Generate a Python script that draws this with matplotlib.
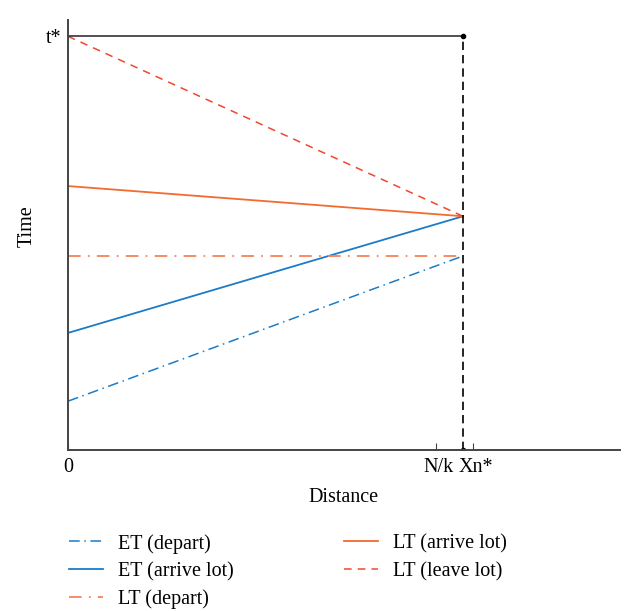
import numpy as np
import matplotlib
matplotlib.use("Agg")
import matplotlib.pyplot as plt

plt.rcParams['font.family'] = ['Liberation Serif', 'DejaVu Serif']

# distance positions (Xn* normalised to 1)
x_ends = [0.0, 1.0]
xn_star = 1.0
nk = 0.932
xn_tick = 1.025
t_star = 1.0

# time values at x=0 and x=Xn*
et_depart = [0.118, 0.469]
et_arrive = [0.283, 0.565]
lt_depart = [0.469, 0.469]
lt_arrive = [0.638, 0.565]
lt_leave = [1.0, 0.565]

blue = '#1b7cc8'
orange = '#f26b30'
orange_lt = '#f4845a'
red = '#f0472c'

fig = plt.figure(figsize=(6.26, 6.11), dpi=100)
ax = fig.add_axes([0.1086, 0.2635, 0.8815, 0.7035])

ax.plot(x_ends, et_depart, color=blue, lw=1.1, ls=(0, (7, 3, 1, 3)), label='ET (depart)')
ax.plot(x_ends, et_arrive, color=blue, lw=1.3, label='ET (arrive lot)')
ax.plot(x_ends, lt_depart, color=orange_lt, lw=1.3, ls=(0, (7, 4, 1, 4)), label='LT (depart)')
ax.plot(x_ends, lt_arrive, color=orange, lw=1.3, label='LT (arrive lot)')
ax.plot(x_ends, lt_leave, color=red, lw=1.1, ls=(0, (5, 4)), label='LT (leave lot)')

# reference lines
ax.plot([0, xn_star], [t_star, t_star], color='#333333', lw=1.2)
ax.plot([xn_star, xn_star], [0, t_star], color='black', lw=1.2, ls=(0, (5, 3)))
ax.plot([xn_star, xn_star], [0, t_star], 'o', color='black', ms=3)

ax.set_xlim(0, 1.397)
ax.set_ylim(0, 1.039)
for s in ['top', 'right']:
    ax.spines[s].set_visible(False)
for s in ['left', 'bottom']:
    ax.spines[s].set_color('#444444')
    ax.spines[s].set_linewidth(1.4)

fs = 14.5
ax.set_xticks([0, nk, xn_tick])
ax.set_xticklabels(['0', '', ''])
ax.tick_params(axis='x', direction='in', length=5, color='#444444', labelsize=fs, pad=6)
ax.text(0.975, -0.02, 'N/k', ha='right', va='top', fontsize=fs)
ax.text(0.99, -0.02, 'Xn*', ha='left', va='top', fontsize=fs)
ax.set_yticks([t_star])
ax.set_yticklabels(['t*'])
ax.tick_params(axis='y', length=0, labelsize=fs, pad=5)

ax.set_xlabel('Distance', fontsize=fs, labelpad=8)
ax.set_ylabel('Time', fontsize=fs)
ax.yaxis.set_label_coords(-0.056, 0.52)

fig.legend(loc='upper left', bbox_to_anchor=(0.082, 0.156), ncol=2, frameon=False,
           fontsize=fs, handlelength=1.65, handletextpad=0.75, columnspacing=5.5,
           labelspacing=0.42)

plt.savefig('out.png', dpi=100)
